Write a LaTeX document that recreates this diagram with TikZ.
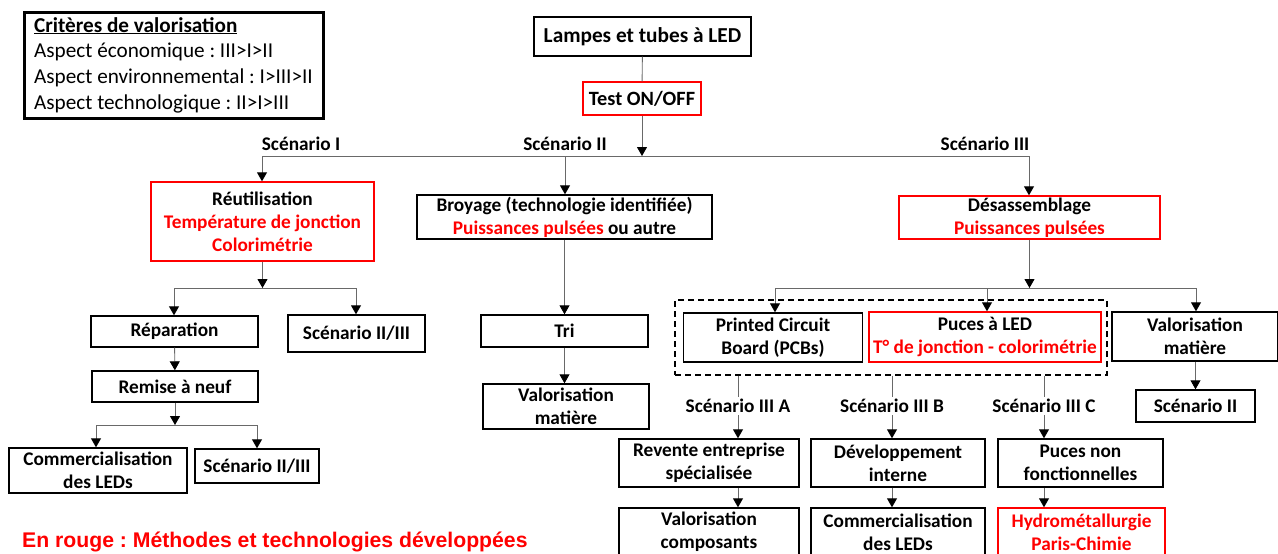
\documentclass[tikz,border=0pt]{standalone}
\usepackage{fontspec}
\setmainfont{Carlito}
\newfontfamily\arialfont{Liberation Sans}
\usetikzlibrary{arrows.meta}
\definecolor{rouge}{RGB}{255,0,0}
\definecolor{trait}{RGB}{105,105,105}
\frenchspacing

\begin{document}
\begin{tikzpicture}[x=1pt,y=-1pt,
    box/.style={draw, line width=1.4pt, inner sep=0pt, align=center, font=\bfseries\fontsize{19.3}{23}\selectfont},
    redbox/.style={box, draw=rouge},
    lbl/.style={inner sep=2pt, font=\bfseries\fontsize{19.3}{23}\selectfont},
    conn/.style={draw=trait, line width=0.9pt},
    arr/.style={conn, -{Triangle[color=black, fill=black, length=9pt, width=10pt]}}]
    \useasboundingbox (0,0) rectangle (1278,554);
    \node[box, line width=3pt, minimum width=299, minimum height=106, align=left, font=\fontsize{21.2}{25.7}\selectfont] (crit) at (173.5,65) {\underline{\textbf{Critères de valorisation}}\\Aspect économique : III>I>II\\Aspect environnemental : I>III>II\\Aspect technologique : II>I>III};
    \node[box, minimum width=217, minimum height=39, font=\bfseries\fontsize{21.3}{24}\selectfont] (lamp) at (642.5,36.5) {Lampes et tubes à LED};
    \node[redbox, minimum width=118, minimum height=33, font=\bfseries\fontsize{20.3}{23}\selectfont] (test) at (642,98.5) {Test ON/OFF};
    \coordinate (s1) at (262,156);
    \coordinate (s2) at (565,156);
    \coordinate (s3) at (1029,156);
    \node[lbl] (lsc1) at (301,144) {Scénario I};
    \node[lbl] (lsc2) at (565,144) {Scénario II};
    \node[lbl] (lsc3) at (985,144) {Scénario III};
    % scenario I
    \node[redbox, minimum width=223, minimum height=79] (reut) at (262.5,221.5) {Réutilisation\\\textcolor{rouge}{Température de jonction}\\\textcolor{rouge}{Colorimétrie}};
    \coordinate (b2l) at (174,288);
    \coordinate (b2r) at (356,288);
    \node[box, minimum width=167, minimum height=31] (repa) at (174.5,331.5) {Réparation};
    \node[box, minimum width=137, minimum height=37] (sc23a) at (356.5,333.5) {Scénario II/III};
    \node[box, minimum width=166, minimum height=31] (remi) at (175,386.5) {Remise à neuf};
    \coordinate (b3l) at (96,425);
    \coordinate (b3r) at (257,425);
    \node[box, minimum width=178, minimum height=45] (comm1) at (98,470.5) {Commercialisation\\des LEDs};
    \node[box, minimum width=124, minimum height=34] (sc23b) at (257,466) {Scénario II/III};
    % scenario II
    \node[box, minimum width=295, minimum height=44] (broy) at (564.5,217) {Broyage (technologie identifiée)\\\textcolor{rouge}{Puissances pulsées} ou autre};
    \node[box, minimum width=167, minimum height=32] (tri) at (564.5,331) {Tri};
    \node[box, minimum width=166, minimum height=45] (valm1) at (566,406.5) {Valorisation\\matière};
    % scenario III
    \node[redbox, minimum width=261, minimum height=43] (desa) at (1029.5,217.5) {Désassemblage\\\textcolor{rouge}{Puissances pulsées}};
    \coordinate (b4l) at (775,288);
    \coordinate (b4m) at (987,288);
    \coordinate (b4r) at (1196,288);
    \node[draw, dash pattern=on 6pt off 4pt, line width=1.2pt, minimum width=432, minimum height=75] (grp) at (891,337.5) {};
    \node[box, minimum width=179, minimum height=49] (pcb) at (773,337.5) {Printed Circuit\\Board (PCBs)};
    \node[redbox, minimum width=232, minimum height=50] (puce) at (985,337) {Puces à LED\\\textcolor{rouge}{T° de jonction - colorimétrie}};
    \node[box, minimum width=166, minimum height=49] (valm2) at (1195,336.5) {Valorisation\\matière};
    \node[box, minimum width=119, minimum height=32] (sc2) at (1195.5,406) {Scénario II};
    \node[lbl] (la) at (738,406) {Scénario III A};
    \node[lbl] (lb) at (892,406) {Scénario III B};
    \node[lbl] (lc) at (1044,406) {Scénario III C};
    \node[box, minimum width=180, minimum height=48] (rev) at (709,463) {Revente entreprise\\spécialisée};
    \node[box, minimum width=180, minimum height=48] (vcomp) at (709,532) {Valorisation\\composants};
    \node[box, minimum width=174, minimum height=48] (dev) at (898,463) {Développement\\interne};
    \node[box, minimum width=174, minimum height=48] (comm2) at (898,532) {Commercialisation\\des LEDs};
    \node[box, minimum width=165, minimum height=48] (pnon) at (1080.5,463) {Puces non\\fonctionnelles};
    \node[redbox, minimum width=167, minimum height=48, text=rouge] (hydro) at (1081.5,532) {Hydrométallurgie\\Paris-Chimie};
    \node[anchor=west, inner sep=0pt, text=rouge, font=\arialfont\bfseries\fontsize{21.2}{24}\selectfont] (leg) at (22,542) {En rouge : Méthodes et technologies développées};
    % connectors
    \draw[conn] (lamp) -- (test);
    \draw[arr] (test) -- (test.south |- s1);
    \draw[conn] (s1) -- (s3);
    \draw[arr] (s1) -- (s1 |- reut.north);
    \draw[arr] (s2) -- (s2 |- broy.north);
    \draw[arr] (s3) -- (s3 |- desa.north);
    \draw[arr] (reut) -- (reut.south |- b2l);
    \draw[conn] (b2l) -- (b2r);
    \draw[arr] (b2l) -- (b2l |- repa.north);
    \draw[arr] (b2r) -- (b2r |- sc23a.north);
    \draw[arr] (repa) -- (remi);
    \draw[arr] (remi) -- (remi.south |- b3l);
    \draw[conn] (b3l) -- (b3r);
    \draw[arr] (b3l) -- (b3l |- comm1.north);
    \draw[arr] (b3r) -- (b3r |- sc23b.north);
    \draw[arr] (broy) -- (tri);
    \draw[arr] (tri.south) -- (tri.south |- valm1.north);
    \draw[arr] (desa) -- (desa.south |- b4l);
    \draw[conn] (b4l) -- (b4r);
    \draw[arr] (b4l) -- (b4l |- pcb.north);
    \draw[arr] (b4m) -- (b4m |- puce.north);
    \draw[arr] (b4r) -- (b4r |- valm2.north);
    \draw[arr] (valm2.south -| sc2) -- (sc2);
    \draw[conn] (la |- grp.south) -- (la);
    \draw[arr] (la) -- (la |- rev.north);
    \draw[arr] (la |- rev.south) -- (la |- vcomp.north);
    \draw[conn] (lb |- grp.south) -- (lb);
    \draw[arr] (lb) -- (lb |- dev.north);
    \draw[arr] (lb |- dev.south) -- (lb |- comm2.north);
    \draw[conn] (lc |- grp.south) -- (lc);
    \draw[arr] (lc) -- (lc |- pnon.north);
    \draw[arr] (lc |- pnon.south) -- (lc |- hydro.north);
\end{tikzpicture}
\end{document}
